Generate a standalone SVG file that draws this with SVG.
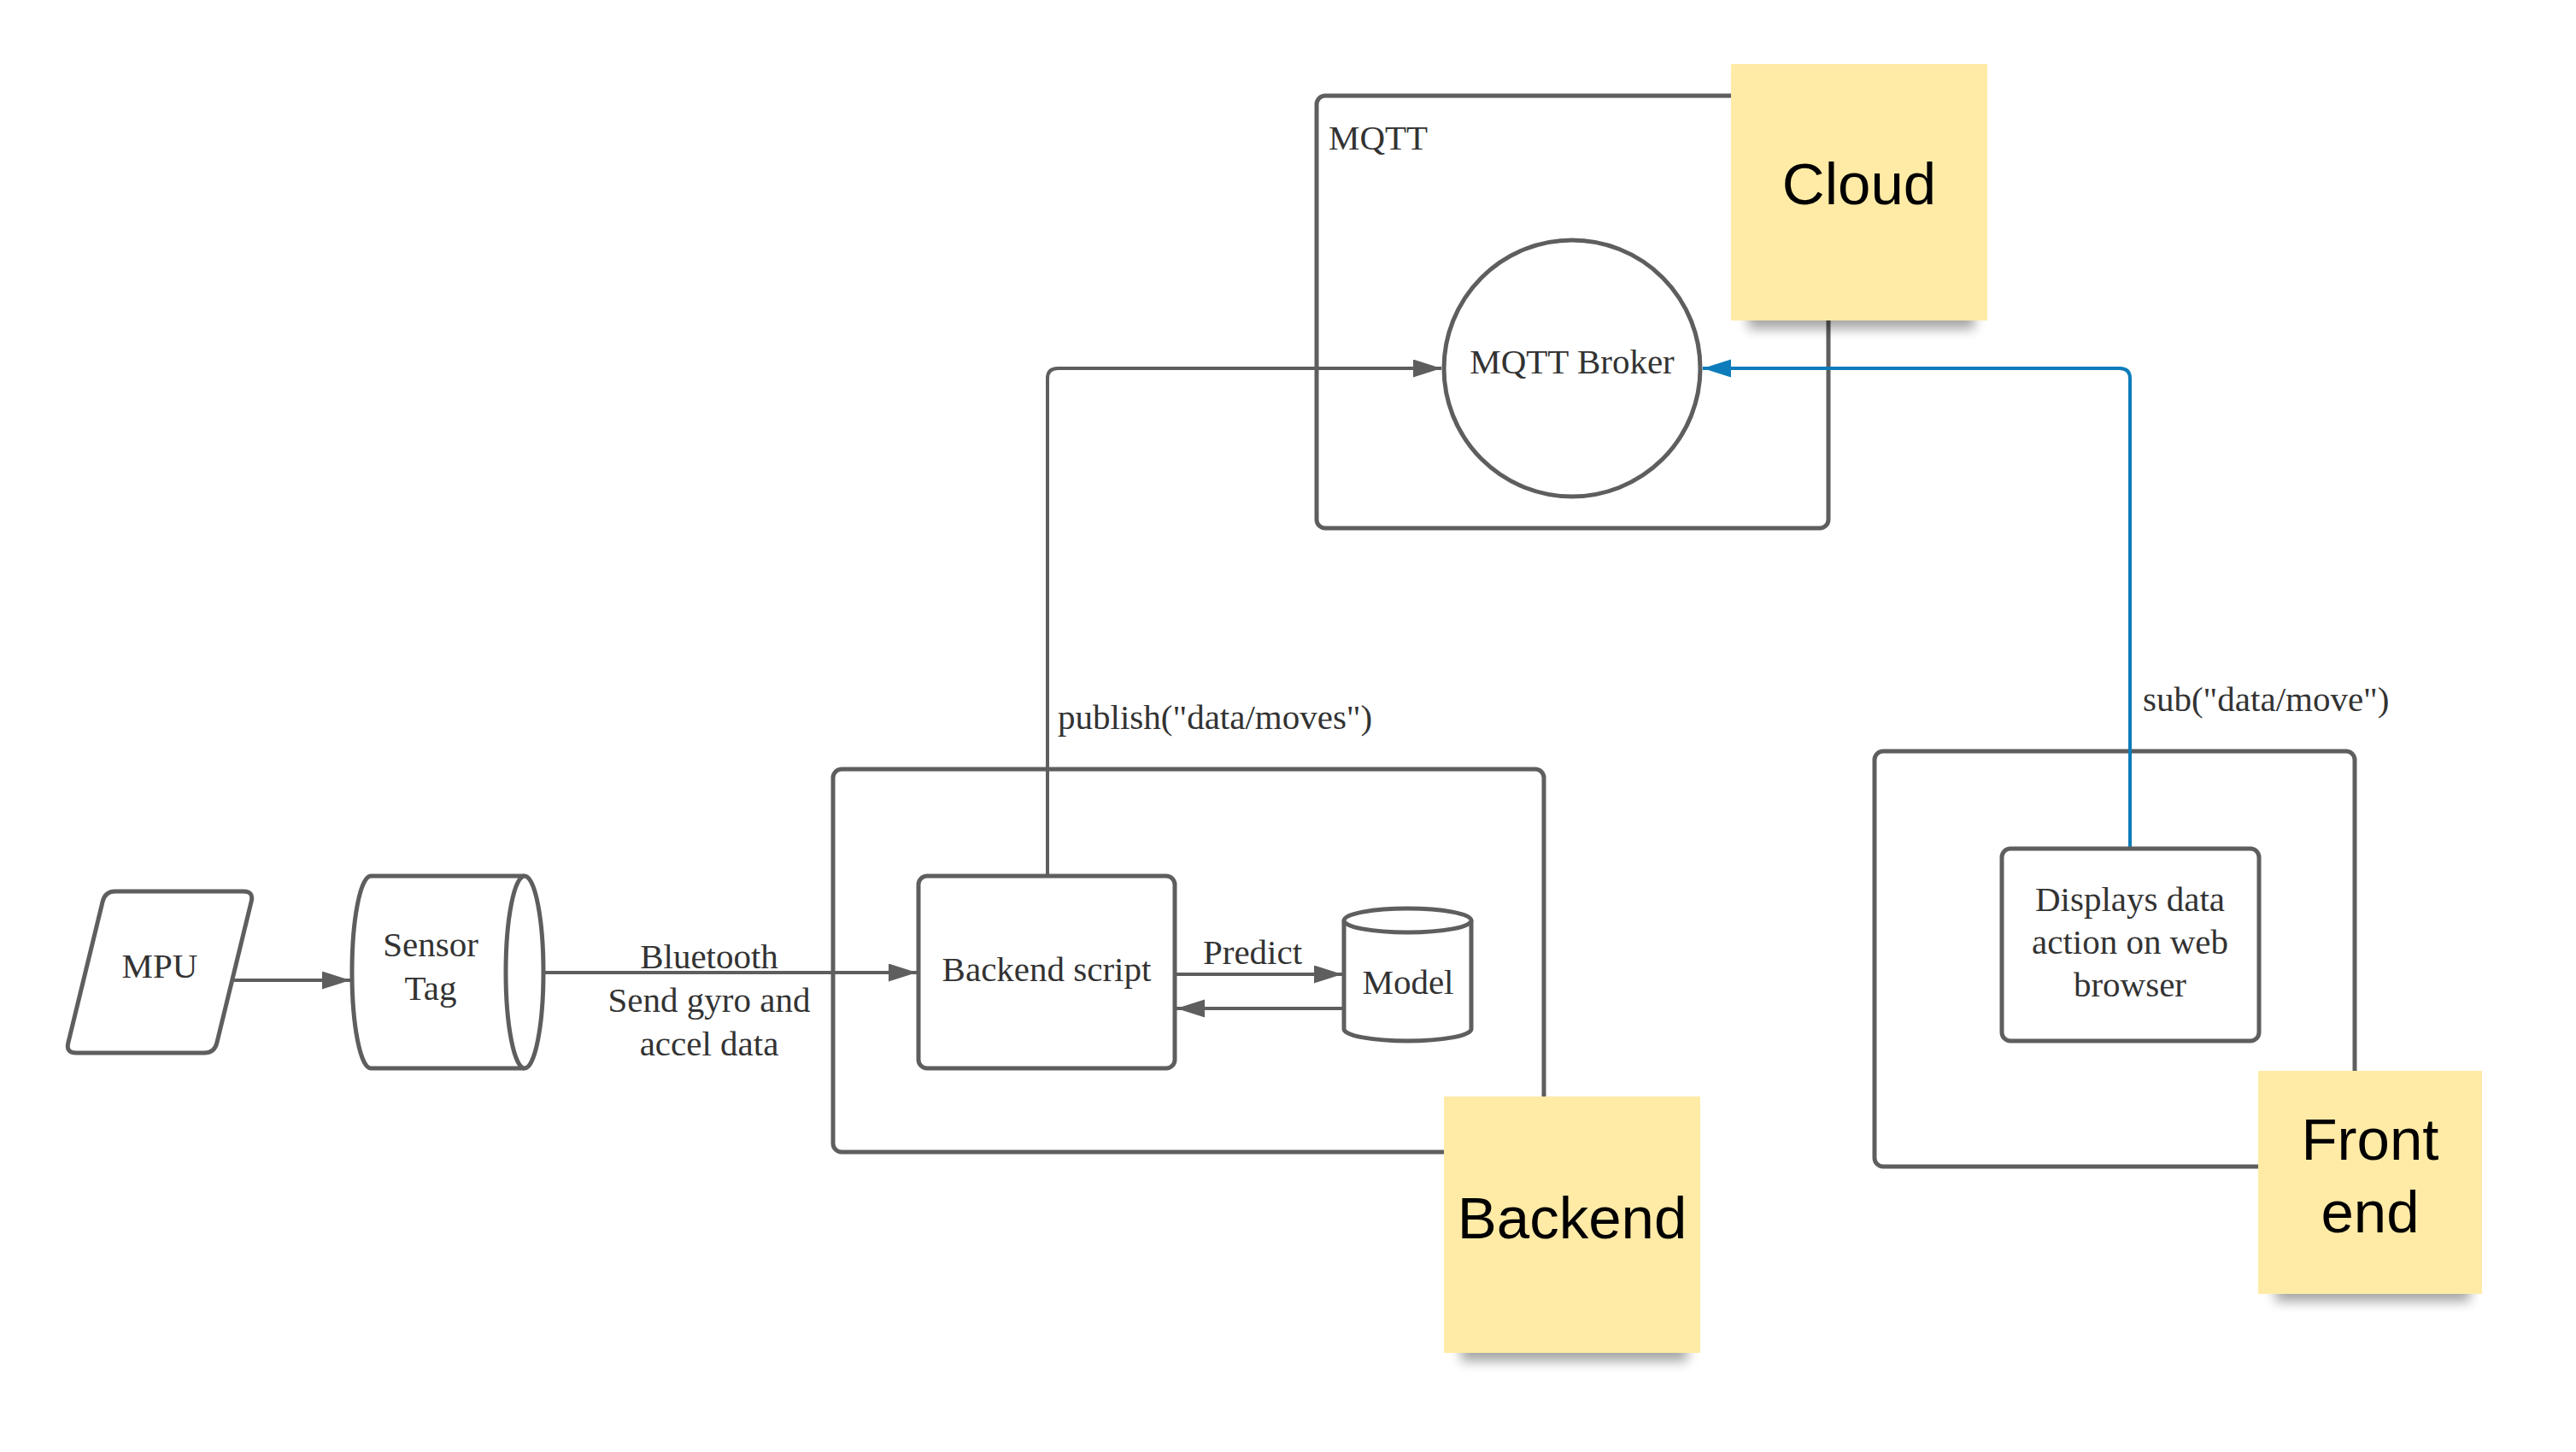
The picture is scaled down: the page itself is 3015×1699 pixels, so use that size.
<svg xmlns="http://www.w3.org/2000/svg" width="3015" height="1699" viewBox="0 0 3015 1699">
<defs>
<style>
.shape{fill:#fff;stroke:#5e5e5e;stroke-width:5;stroke-linejoin:round}
.cont{fill:none;stroke:#5e5e5e;stroke-width:5}
.conn{fill:none;stroke:#5e5e5e;stroke-width:4}
.blue{fill:none;stroke:#0c7cba;stroke-width:4}
.t{font-family:"Liberation Serif",serif;font-size:41px;fill:#333}
.tm{text-anchor:middle}
.sticky{fill:#ffeba6}
.st{font-family:"Liberation Sans",Arial,sans-serif;font-size:69px;fill:#000;text-anchor:middle}
.shadow{fill:#000;opacity:.35;filter:url(#blur)}
</style>
<filter id="blur" x="-20%" y="-20%" width="140%" height="140%"><feGaussianBlur stdDeviation="7"/></filter>
<marker id="ag" markerUnits="userSpaceOnUse" markerWidth="34" markerHeight="22" refX="33" refY="10.5" orient="auto"><path d="M0,0 L33,10.5 L0,21 Z" fill="#5e5e5e"/></marker>
<marker id="ab" markerUnits="userSpaceOnUse" markerWidth="34" markerHeight="22" refX="33" refY="10.5" orient="auto"><path d="M0,0 L33,10.5 L0,21 Z" fill="#0c7cba"/></marker>
</defs>
<rect width="3015" height="1699" fill="#fff"/>

<g id="mqtt-container">
<rect class="cont" x="1541" y="112" width="599" height="506" rx="10"/>
<text class="t" x="1555" y="175">MQTT</text>
</g>
<g id="backend-container">
<rect class="cont" x="975" y="900" width="832" height="448" rx="10"/>
</g>
<g id="frontend-container">
<rect class="cont" x="2194" y="879" width="562" height="486" rx="10"/>
</g>

<g id="connectors">
<line class="conn" x1="274" y1="1147" x2="410" y2="1147" marker-end="url(#ag)"/>
<line class="conn" x1="636" y1="1138" x2="1073" y2="1138" marker-end="url(#ag)"/>
<line class="conn" x1="1375" y1="1140" x2="1571" y2="1140" marker-end="url(#ag)"/>
<line class="conn" x1="1573" y1="1180" x2="1377" y2="1180" marker-end="url(#ag)"/>
<path class="conn" d="M1226,1025 L1226,443 Q1226,431 1238,431 L1687,431" marker-end="url(#ag)"/>
<path class="blue" d="M2493,993 L2493,443 Q2493,431 2481,431 L1993,431" marker-end="url(#ab)"/>
<text class="t tm" x="830" y="1133">Bluetooth</text>
<text class="t tm" x="830" y="1184">Send gyro and</text>
<text class="t tm" x="830" y="1235">accel data</text>
<text class="t tm" x="1466" y="1128">Predict</text>
<text class="t" x="1238" y="853">publish("data/moves")</text>
<text class="t" x="2508" y="832">sub("data/move")</text>
</g>

<g id="mpu">
<path class="shape" d="M135,1043 L285,1043 Q297,1043 294.2,1054.7 L253.8,1220.3 Q251,1232 239,1232 L89,1232 Q77,1232 79.8,1220.3 L120.2,1054.7 Q123,1043 135,1043 Z"/>
<text class="t tm" x="187" y="1144">MPU</text>
</g>
<g id="sensor-tag">
<path class="shape" d="M434,1025 L614,1025 A22,112.5 0 0 1 614,1250 L434,1250 A22,112.5 0 0 1 434,1025 Z"/>
<path class="shape" fill="none" d="M614,1025 A22,112.5 0 0 0 614,1250"/>
<text class="t tm" x="504" y="1119">Sensor</text>
<text class="t tm" x="504" y="1170">Tag</text>
</g>
<g id="backend-script">
<rect class="shape" x="1075" y="1025" width="300" height="225" rx="10"/>
<text class="t tm" x="1225" y="1148">Backend script</text>
</g>
<g id="model">
<path class="shape" d="M1573,1077 A74.5,14 0 0 1 1722,1077 L1722,1204 A74.5,14 0 0 1 1573,1204 Z"/>
<path class="shape" d="M1573,1077 A74.5,14 0 0 0 1722,1077"/>
<text class="t tm" x="1648" y="1163">Model</text>
</g>
<g id="mqtt-broker">
<circle class="shape" cx="1840" cy="431" r="150"/>
<text class="t tm" x="1840" y="437">MQTT Broker</text>
</g>
<g id="displays">
<rect class="shape" x="2343" y="993" width="301" height="225" rx="10"/>
<text class="t tm" x="2493" y="1066">Displays data</text>
<text class="t tm" x="2493" y="1116">action on web</text>
<text class="t tm" x="2493" y="1166">browser</text>
</g>

<g id="sticky-cloud">
<rect class="shadow" x="2046" y="95" width="265" height="290"/>
<rect class="sticky" x="2026" y="75" width="300" height="300"/>
<text class="st" x="2176" y="239">Cloud</text>
</g>
<g id="sticky-backend">
<rect class="shadow" x="1710" y="1303" width="265" height="290"/>
<rect class="sticky" x="1690" y="1283" width="300" height="300"/>
<text class="st" x="1840" y="1449">Backend</text>
</g>
<g id="sticky-frontend">
<rect class="shadow" x="2663" y="1273" width="228" height="250"/>
<rect class="sticky" x="2643" y="1253" width="262" height="261"/>
<text class="st" x="2774" y="1357">Front</text>
<text class="st" x="2774" y="1442">end</text>
</g>
</svg>
